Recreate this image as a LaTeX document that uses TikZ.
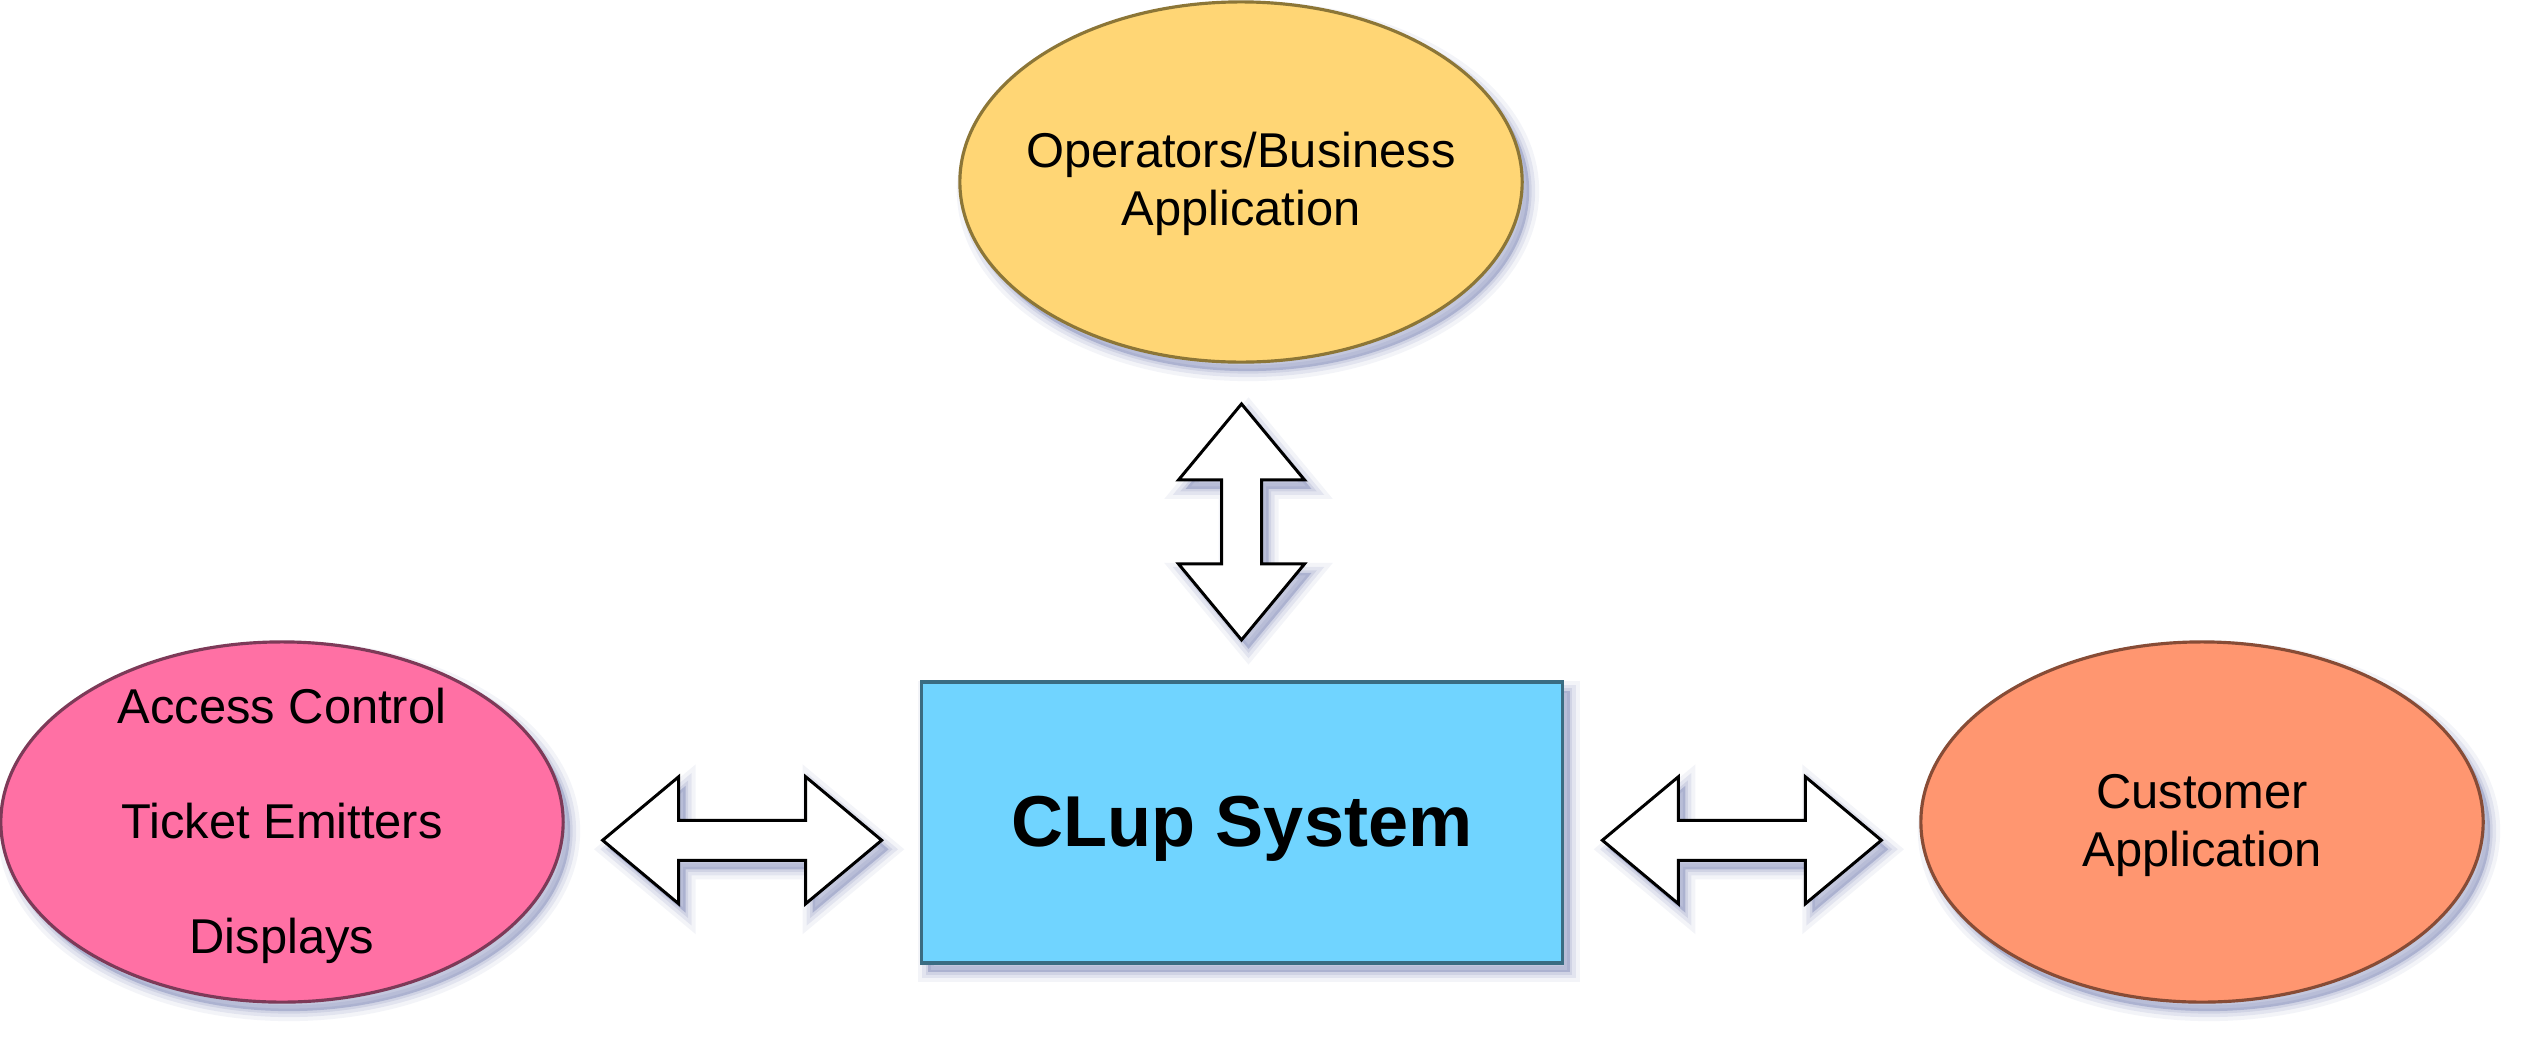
\documentclass[tikz,border=0pt]{standalone}
\usepackage{fontspec}
\setmainfont{Liberation Sans}
\usetikzlibrary{shapes.geometric,shadows,calc}
\definecolor{opfill}{RGB}{255,214,117}
\definecolor{opline}{RGB}{140,118,55}
\definecolor{acfill}{RGB}{255,112,164}
\definecolor{acline}{RGB}{125,58,88}
\definecolor{sysfill}{RGB}{112,212,255}
\definecolor{sysline}{RGB}{58,108,130}
\definecolor{cufill}{RGB}{255,150,112}
\definecolor{culine}{RGB}{135,76,54}
\definecolor{shadowc}{RGB}{105,115,170}
\begin{document}
\begin{tikzpicture}[x=0.01cm,y=-0.01cm,
  softshadow/.style={
    general shadow={draw=shadowc, draw opacity=0.08, line width=0.20cm, shadow xshift=0.07cm, shadow yshift=-0.09cm},
    general shadow={draw=shadowc, draw opacity=0.12, line width=0.12cm, shadow xshift=0.07cm, shadow yshift=-0.09cm},
    general shadow={draw=shadowc, draw opacity=0.15, line width=0.05cm, shadow xshift=0.07cm, shadow yshift=-0.09cm},
    general shadow={fill=shadowc, fill opacity=0.35, shadow xshift=0.07cm, shadow yshift=-0.09cm}},
  actor/.style={ellipse, minimum width=5.62cm, minimum height=3.60cm, inner sep=0pt, line width=0.9pt, softshadow},
  sysbox/.style={rectangle, minimum width=6.41cm, minimum height=2.81cm, inner sep=0pt, draw=sysline, fill=sysfill, line width=1pt, softshadow},
  txt/.style={font=\fontsize{13.9}{16.5}\selectfont, align=center, inner sep=0pt},
  blockarrow/.style={draw=black, fill=white, line width=0.85pt, line join=miter, softshadow}]
\useasboundingbox (0,0) rectangle (2528,1048);

\node[actor, draw=opline, fill=opfill] (ops) at (1241,182) {};
\node[actor, draw=acline, fill=acfill] (acc) at (282,822) {};
\node[actor, draw=culine, fill=cufill] (cust) at (2202,822) {};
\node[sysbox] (sys) at (1242,822.5) {};

\node[txt] (opsT) at ($(ops.center)+(0,2)$) {Operators/Business\\Application};
\node[txt, font=\fontsize{13.9}{32.7}\selectfont] (accT) at ($(acc.center)+(0,4)$) {Access Control\\Ticket Emitters\\Displays};
\node[txt] (custT) at ($(cust.center)+(0,3)$) {Customer\\Application};
\node[font=\bfseries\fontsize{20.5}{24}\selectfont, anchor=base, inner sep=0pt] (sysT) at ($(sys.center)+(0,23.5)$) {CLup System};

\coordinate (aV) at ($(ops.south)!0.5!(sys.north)$);
\coordinate (aL) at ($(acc.east)!0.5!(sys.west)+(0,18)$);
\coordinate (aR) at ($(sys.east)!0.5!(cust.west)+(0,18)$);

\draw[blockarrow, shift={(aV)}] (0,-118) -- (63,-42) -- (20,-42) -- (20,42) -- (63,42) -- (0,118) -- (-63,42) -- (-20,42) -- (-20,-42) -- (-63,-42) -- cycle;
\draw[blockarrow, shift={(aL)}] (-139.5,0) -- (-63.5,-63.5) -- (-63.5,-20) -- (63.5,-20) -- (63.5,-63.5) -- (139.5,0) -- (63.5,63.5) -- (63.5,20) -- (-63.5,20) -- (-63.5,63.5) -- cycle;
\draw[blockarrow, shift={(aR)}] (-139.5,0) -- (-63.5,-63.5) -- (-63.5,-20) -- (63.5,-20) -- (63.5,-63.5) -- (139.5,0) -- (63.5,63.5) -- (63.5,20) -- (-63.5,20) -- (-63.5,63.5) -- cycle;
\end{tikzpicture}
\end{document}
